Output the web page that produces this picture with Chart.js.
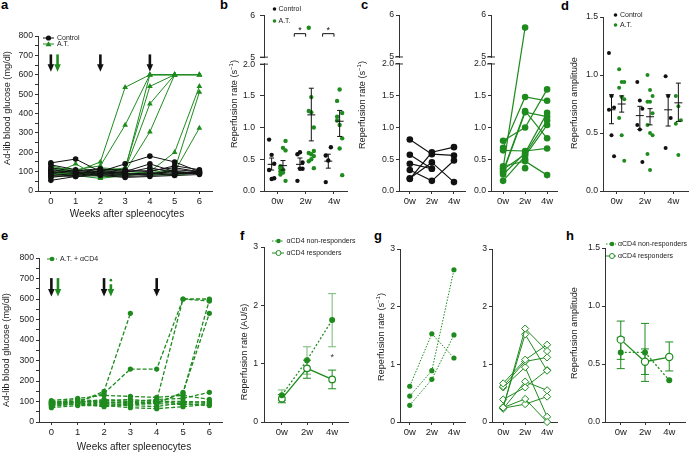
<!DOCTYPE html>
<html lang="en">
<head>
<meta charset="UTF-8" />
<title>Glucose and reperfusion panels</title>
<script src="https://cdn.jsdelivr.net/npm/chart.js"></script>
<style>
  body { margin:0; width:690px; height:452px; position:relative; overflow:hidden; background:#fff;
         font-family:'Liberation Sans', Arial, Helvetica, sans-serif; color:#222; }
  canvas { position:absolute; }
  .letter { position:absolute; font-weight:bold; font-size:13px; line-height:13px; color:#000; }
  .ytitle { position:absolute; font-size:9.2px; line-height:10px; white-space:nowrap; transform:translate(-50%,-50%) rotate(-90deg); filter:grayscale(1); }
  .ytitle sup { font-size:6px; line-height:0; }
  .xtitle { position:absolute; font-size:10px; line-height:10px; white-space:nowrap; transform:translate(-50%,-50%); filter:grayscale(1); }
  .leg { position:absolute; height:8px; display:flex; align-items:center; font-size:7px; line-height:8px; white-space:nowrap; }
  .leg span { filter:grayscale(1); }
  .leg svg { display:block; flex:none; }
</style>
</head>
<body>
  <div class="letter" style="left:1px;top:-2px">a</div>
  <div class="letter" style="left:220px;top:-2px">b</div>
  <div class="letter" style="left:361px;top:-2px">c</div>
  <div class="letter" style="left:561px;top:-1px">d</div>
  <div class="letter" style="left:1px;top:229px">e</div>
  <div class="letter" style="left:240px;top:229px">f</div>
  <div class="letter" style="left:374px;top:229px">g</div>
  <div class="letter" style="left:566px;top:229px">h</div>

  <div class="ytitle" style="left:7px;top:108px">Ad-lib blood glucose (mg/dl)</div>
  <div class="ytitle" style="left:234px;top:104px">Reperfusion rate (s<sup>−1</sup>)</div>
  <div class="ytitle" style="left:362px;top:105px">Reperfusion rate (s<sup>−1</sup>)</div>
  <div class="ytitle" style="left:574px;top:103px">Reperfusion amplitude</div>
  <div class="ytitle" style="left:6px;top:350px">Ad-lib blood glucose (mg/dl)</div>
  <div class="ytitle" style="left:244px;top:352px">Reperfusion rate (AU/s)</div>
  <div class="ytitle" style="left:381px;top:337px">Reperfusion rate (s<sup>−1</sup>)</div>
  <div class="ytitle" style="left:574px;top:333px">Reperfusion amplitude</div>

  <div class="xtitle" style="left:127px;top:214px">Weeks after spleenocytes</div>
  <div class="xtitle" style="left:134px;top:447px">Weeks after spleenocytes</div>

<script>
// ---------- data ----------
const weeks = [0, 1, 2, 3, 4, 5, 6];
const weekLabels = ['0', '1', '2', '3', '4', '5', '6'];
const glucoseTicks = [0, 50, 100, 150, 200, 250, 300, 350, 400, 450, 500, 550, 600, 650, 700, 750, 800];
const groupLabels = ['0w', '2w', '4w'];

// panel a: control (circles) and A.T. (triangles), one row per mouse
const controlGlucose = [
  [145, 165, 100, 140, 180, 150, 100],
  [135, 110, 90, 100, 140, 100, 95],
  [120, 100, 110, 110, 100, 130, 110],
  [110, 95, 100, 90, 85, 110, 100],
  [100, 90, 85, 75, 80, 90, 90],
  [90, 80, 95, 85, 95, 85, 105],
  [80, 75, 80, 70, 75, 80, 85],
  [70, 85, 105, 95, 120, 95, 95],
  [55, 75, 90, 80, 90, 100, 90],
  [95, 105, 115, 100, 105, 120, 100]
];
const atGlucose = [
  [130, 100, 150, 535, 600, 600, 600],
  [120, 110, 130, 340, 600, 600, 600],
  [100, 90, 100, 120, 540, 600, 600],
  [110, 95, 90, 110, 450, 600],
  [95, 85, 80, 100, 305, 600],
  [90, 80, 120, 110, 600, 600],
  [80, 140, 70, 90, 100, 200, 540],
  [85, 90, 75, 85, 95, 110, 510],
  [75, 80, 65, 80, 90, 100, 325],
  [100, 85, 95, 90, 85, 80, 95],
  [115, 95, 100, 90, 90, 85, 100]
];

// panel e: A.T. + aCD4
const cd4Glucose = [
  [100, 95, 150, 530],
  [90, 100, 140, 258, 258, 600, 600],
  [85, 95, 110, 100, 105, 600, 590],
  [95, 110, 100, 90, 95, 140, 595],
  [80, 90, 90, 85, 90, 145, 530],
  [105, 115, 130, 125, 120, 130, 110],
  [70, 80, 80, 70, 65, 75, 85],
  [100, 100, 95, 100, 110, 115, 145],
  [90, 85, 85, 80, 75, 95, 100],
  [75, 90, 75, 90, 100, 90, 80],
  [95, 95, 105, 110, 100, 100, 95],
  [85, 100, 95, 95, 90, 85, 90]
];

// panels b/c: reperfusion rate per mouse at 0w, 2w, 4w
const ctrlRatePairs = [
  [0.81, 0.58, 0.56],
  [0.57, 0.35, null],
  [0.43, 0.35, null],
  [0.33, 0.16, 0.48],
  [0.19, 0.61, 0.69],
  [0.20, 0.45, 0.14]
];
const atRatePairs = [
  [0.36, 5.7, null],
  [0.68, 1.48, 1.42],
  [0.79, 1.00, 1.60],
  [0.31, 1.26, 0.83],
  [0.29, 1.24, 1.17],
  [0.64, 0.63, 0.67],
  [0.26, 0.60, 1.23],
  [0.34, 0.58, 1.11],
  [0.16, 0.55, 1.04],
  [0.39, 0.47, 0.25],
  [null, 0.50, null],
  [null, 0.36, null]
];
const ctrlRateMean = [0.42, 0.42, 0.47];
const ctrlRateLo = [0.33, 0.36, 0.36];
const ctrlRateHi = [0.52, 0.52, 0.58];
const atRateMean = [0.40, 1.20, 1.10];
const atRateLo = [0.33, 0.79, 0.86];
const atRateHi = [0.48, 1.62, 1.27];

// panel d: reperfusion amplitude
const ctrlAmp = [
  [1.19, 0.82, 0.72, 0.70, 0.48, 0.30],
  [0.94, 0.78, 0.71, 0.57, 0.53, 0.25],
  [0.99, 0.82, 0.63, 0.37]
];
const atAmp = [
  [1.05, 0.94, 0.94, 0.89, 0.81, 0.79, 0.63, 0.48, 0.26],
  [1.00, 0.87, 0.82, 0.77, 0.77, 0.67, 0.57, 0.50, 0.48, 0.32, 0.18],
  [0.82, 0.73, 0.61, 0.58, 0.31]
];
const ctrlAmpMean = [0.70, 0.65, 0.70];
const ctrlAmpLo = [0.58, 0.53, 0.56];
const ctrlAmpHi = [0.83, 0.73, 0.83];
const atAmpMean = [0.75, 0.64, 0.76];
const atAmpLo = [0.68, 0.57, 0.60];
const atAmpHi = [0.82, 0.71, 0.93];

// panel f: mean rate (AU/s)
const nonRespRate = [0.46, 1.06, 1.75];
const nonRespRateLo = [0.37, 0.82, 1.29];
const nonRespRateHi = [0.55, 1.29, 2.20];
const respRate = [0.40, 0.92, 0.73];
const respRateLo = [0.33, 0.75, 0.57];
const respRateHi = [0.47, 1.06, 0.89];

// panel g: per mouse rate
const nonRespPairs = [
  [0.62, 1.53, 1.11],
  [0.45, 0.89, 2.64],
  [0.29, 0.74, 1.51]
];
const respPairs = [
  [0.25, 1.62, 1.23],
  [0.26, 1.52, 0.89],
  [0.67, 1.08, 1.34],
  [0.62, 1.05, 1.12],
  [0.39, 0.60, 0.90],
  [0.23, 0.70, 0.55],
  [0.25, 0.40, 0.00],
  [0.24, 0.31, 0.44],
  [0.60, 0.95, 0.09]
];

// panel h: amplitude
const nonRespAmp = [0.60, 0.60, 0.36];
const nonRespAmpLo = [0.46, 0.35, null];
const nonRespAmpHi = [0.73, 0.85, null];
const respAmp = [0.71, 0.52, 0.56];
const respAmpLo = [0.54, 0.41, 0.44];
const respAmpHi = [0.87, 0.63, 0.69];

// ---------- helpers ----------
const GREEN = '#1f8b1f';
const LIGHTGREEN = '#74b874';
const BLACK = '#111';
const YW = 34, PT = 10, PR = 10, XH = 26;

// broken y axis for b and c: 0..2 then 5..6 squeezed on top
const BRK_TOP = 2.11, BRK_K = 0.661;
const brk = v => v <= 2 ? v : BRK_TOP + (v - 5) * BRK_K;

function arrow(ctx, x, y0, y1, color) {
  const head = 7.5, hw = 3.3;
  ctx.strokeStyle = color; ctx.fillStyle = color; ctx.lineWidth = 2.6;
  ctx.beginPath(); ctx.moveTo(x, y0); ctx.lineTo(x, y1 - head + 1); ctx.stroke();
  ctx.beginPath(); ctx.moveTo(x - hw, y1 - head); ctx.lineTo(x + hw, y1 - head); ctx.lineTo(x, y1); ctx.closePath(); ctx.fill();
}

function drawBars(chart, bars) {
  const ctx = chart.ctx, xs = chart.scales.x, ys = chart.scales.y;
  bars.forEach(b => {
    const x = xs.getPixelForValue(b.x);
    ctx.strokeStyle = b.color; ctx.lineWidth = b.width || 1;
    ctx.beginPath();
    if (b.lo != null) {
      const yl = ys.getPixelForValue(b.lo), yh = ys.getPixelForValue(b.hi);
      ctx.moveTo(x, yl); ctx.lineTo(x, yh);
      ctx.moveTo(x - b.cap, yl); ctx.lineTo(x + b.cap, yl);
      ctx.moveTo(x - b.cap, yh); ctx.lineTo(x + b.cap, yh);
    }
    if (b.half) {
      const ym = ys.getPixelForValue(b.mean);
      ctx.moveTo(x - b.half, ym); ctx.lineTo(x + b.half, ym);
    }
    ctx.stroke();
  });
}

function makeExtras(ex) {
  return {
    id: 'extras',
    beforeDatasetsDraw(chart) {
      if (ex.bars && ex.barsBehind) { chart.ctx.save(); drawBars(chart, ex.bars); chart.ctx.restore(); }
    },
    afterDatasetsDraw(chart) {
      const ctx = chart.ctx, xs = chart.scales.x, ys = chart.scales.y;
      ctx.save();
      if (ex.bars && !ex.barsBehind) drawBars(chart, ex.bars);
      (ex.arrows || []).forEach(a => {
        const x = xs.getPixelForValue(a.x);
        if (a.dot) {
          ctx.fillStyle = a.color;
          ctx.beginPath(); ctx.arc(x, ys.getPixelForValue(a.dot), 1.3, 0, Math.PI * 2); ctx.fill();
        }
        arrow(ctx, x, ys.getPixelForValue(a.top), ys.getPixelForValue(a.tip), a.color);
      });
      (ex.brackets || []).forEach(b => {
        const x1 = xs.getPixelForValue(b.x1), x2 = xs.getPixelForValue(b.x2), y = ys.getPixelForValue(b.y);
        ctx.strokeStyle = '#111'; ctx.lineWidth = 1;
        ctx.beginPath(); ctx.moveTo(x1, y + 3); ctx.lineTo(x1, y); ctx.lineTo(x2, y); ctx.lineTo(x2, y + 3); ctx.stroke();
        ctx.fillStyle = '#111'; ctx.font = '9px "Liberation Sans", Arial, sans-serif';
        ctx.textAlign = 'center'; ctx.textBaseline = 'bottom';
        ctx.fillText('*', (x1 + x2) / 2, y + 1);
      });
      (ex.stars || []).forEach(s => {
        ctx.fillStyle = '#333'; ctx.font = '9px "Liberation Sans", Arial, sans-serif';
        ctx.textAlign = 'center'; ctx.textBaseline = 'middle';
        ctx.fillText(s.text, xs.getPixelForValue(s.x), ys.getPixelForValue(s.y));
      });
      ctx.restore();
    },
    afterDraw(chart) {
      if (!ex.yBreak) return;
      const ctx = chart.ctx, ys = chart.scales.y, x = chart.chartArea.left;
      const ylo = ys.getPixelForValue(2), yhi = ys.getPixelForValue(BRK_TOP);
      ctx.save();
      ctx.fillStyle = '#fff';
      ctx.fillRect(x - 2, yhi + 1, 4, ylo - yhi - 2);
      ctx.strokeStyle = '#333'; ctx.lineWidth = 1;
      ctx.beginPath();
      ctx.moveTo(x - 4, ylo); ctx.lineTo(x + 4, ylo);
      ctx.moveTo(x - 4, yhi); ctx.lineTo(x + 4, yhi);
      ctx.stroke();
      ctx.restore();
    }
  };
}

function axis(a, dir) {
  return {
    type: 'linear', min: a.min, max: a.max,
    afterBuildTicks: s => { s.ticks = a.ticks.map(v => ({ value: v })); },
    afterFit: s => { if (dir === 'x') s.height = XH; else s.width = YW; },
    ticks: {
      autoSkip: false, maxRotation: 0, padding: a.pad ?? 2, color: '#222',
      font: { size: dir === 'x' ? 9.5 : 8.7, family: "'Liberation Sans', Arial, sans-serif" },
      callback: (v, i) => a.labels[i]
    },
    grid: { display: true, drawOnChartArea: false, drawTicks: true, tickLength: a.tick ?? 3, color: '#333', lineWidth: 1 },
    border: { display: true, color: '#333', width: 1 }
  };
}

function panel(box, opts) {
  const cv = document.createElement('canvas');
  const w = box.r - box.l + YW + PR, h = box.b - box.t + PT + XH;
  cv.width = w; cv.height = h;
  cv.style.left = (box.l - YW) + 'px';
  cv.style.top = (box.t - PT) + 'px';
  document.body.appendChild(cv);
  return new Chart(cv, {
    type: 'scatter',
    data: { datasets: opts.datasets },
    options: {
      responsive: false, animation: false, events: [],
      layout: { padding: { top: PT, right: PR, left: 0, bottom: 0 } },
      plugins: { legend: { display: false }, tooltip: { enabled: false } },
      scales: { x: axis(opts.x, 'x'), y: axis(opts.y, 'y') }
    },
    plugins: [makeExtras(opts.extras || {})]
  });
}

function series(values, xs, style) {
  const pts = [];
  values.forEach((v, i) => { if (v != null) pts.push({ x: xs[i], y: v }); });
  return Object.assign({ data: pts, showLine: true, tension: 0, clip: false, borderWidth: 1 }, style);
}

// spread dots a little sideways inside a group
const jitter = i => ((i % 3) - 1) * 0.09;

function groupDots(groups, offset, tf, style) {
  const pts = [];
  groups.forEach((vals, k) => vals.forEach((v, i) => pts.push({ x: k + offset + jitter(i), y: tf(v) })));
  return Object.assign({ data: pts, showLine: false, clip: false, borderWidth: 0 }, style);
}

const byGroup = pairs => [0, 1, 2].map(k => pairs.map(p => p[k]).filter(v => v != null));

function meanBars(mean, lo, hi, offset, color, tf, half, cap) {
  return mean.map((m, k) => ({
    x: k + offset, mean: tf(m), lo: lo[k] == null ? null : tf(lo[k]), hi: hi[k] == null ? null : tf(hi[k]),
    color: color, half: half, cap: cap
  }));
}

const idt = v => v;
const glucoseLabels = glucoseTicks.map(v => v % 100 === 0 ? String(v) : '');
const rateBrkTicks = [0, 0.5, 1, 1.5, 2, brk(5), brk(6)];
const rateBrkLabels = ['0.0', '0.5', '1.0', '1.5', '2.0', '5', '6'];

// ---------- a ----------
panel({ l: 38, t: 36, r: 212, b: 191 }, {
  x: { min: -0.52, max: 6.51, ticks: weeks, labels: weekLabels, pad: 2 },
  y: { min: 0, max: 800, ticks: glucoseTicks, labels: glucoseLabels, pad: 2 },
  datasets: [
    ...controlGlucose.map(s => series(s, weeks, { borderColor: BLACK, backgroundColor: BLACK, pointStyle: 'circle', pointRadius: 2.8, pointBorderWidth: 0 })),
    ...atGlucose.map(s => series(s, weeks, { borderColor: GREEN, backgroundColor: GREEN, pointStyle: 'triangle', pointRadius: 3.3, pointBorderWidth: 0 }))
  ],
  extras: {
    arrows: [
      { x: 0, top: 705, tip: 615, color: BLACK },
      { x: 0.27, top: 705, tip: 615, color: GREEN },
      { x: 2, top: 705, tip: 615, color: BLACK },
      { x: 4, top: 705, tip: 615, color: BLACK }
    ]
  }
});

// ---------- b ----------
panel({ l: 264, t: 15, r: 347, b: 191 }, {
  x: { min: -0.47, max: 2.46, ticks: [0, 1, 2], labels: groupLabels, pad: 2 },
  y: { min: 0, max: brk(6), ticks: rateBrkTicks, labels: rateBrkLabels, pad: 5, tick: 4 },
  datasets: [
    groupDots(byGroup(ctrlRatePairs), -0.2, brk, { backgroundColor: BLACK, pointRadius: 2.2 }),
    groupDots(byGroup(atRatePairs), 0.2, brk, { backgroundColor: GREEN, pointRadius: 2.2 })
  ],
  extras: {
    yBreak: true,
    bars: [
      ...meanBars(ctrlRateMean, ctrlRateLo, ctrlRateHi, -0.2, BLACK, brk, 4, 2.5),
      ...meanBars(atRateMean, atRateLo, atRateHi, 0.2, BLACK, brk, 4, 2.5)
    ],
    brackets: [
      { x1: 0.6, x2: 1.0, y: brk(5.56) },
      { x1: 1.6, x2: 2.0, y: brk(5.56) }
    ]
  }
});

// ---------- c ----------
panel({ l: 399, t: 15, r: 465, b: 191 }, {
  x: { min: -0.49, max: 2.5, ticks: [0, 1, 2], labels: groupLabels, pad: 2 },
  y: { min: 0, max: brk(6), ticks: rateBrkTicks, labels: rateBrkLabels, pad: 2 },
  datasets: ctrlRatePairs.map(s => series(s.map(v => v == null ? null : brk(v)), [0, 1, 2],
    { borderColor: BLACK, backgroundColor: BLACK, borderWidth: 1.2, pointRadius: 3.3, pointBorderWidth: 0 })),
  extras: { yBreak: true }
});
panel({ l: 491, t: 15, r: 557, b: 191 }, {
  x: { min: -0.55, max: 2.45, ticks: [0, 1, 2], labels: groupLabels, pad: 2 },
  y: { min: 0, max: brk(6), ticks: rateBrkTicks, labels: rateBrkLabels, pad: 2 },
  datasets: atRatePairs.map(s => series(s.map(v => v == null ? null : brk(v)), [0, 1, 2],
    { borderColor: GREEN, backgroundColor: GREEN, borderWidth: 1.2, pointRadius: 3.3, pointBorderWidth: 0 })),
  extras: { yBreak: true }
});

// ---------- d ----------
panel({ l: 603, t: 17, r: 688, b: 191 }, {
  x: { min: -0.48, max: 2.52, ticks: [0, 1, 2], labels: groupLabels, pad: 2 },
  y: { min: 0, max: 1.5, ticks: [0, 0.5, 1, 1.5], labels: ['0.0', '0.5', '1.0', '1.5'], pad: 2 },
  datasets: [
    groupDots(ctrlAmp, -0.18, idt, { backgroundColor: BLACK, pointRadius: 2 }),
    groupDots(atAmp, 0.18, idt, { backgroundColor: GREEN, pointRadius: 2 })
  ],
  extras: {
    bars: [
      ...meanBars(ctrlAmpMean, ctrlAmpLo, ctrlAmpHi, -0.18, BLACK, idt, 4, 2.5),
      ...meanBars(atAmpMean, atAmpLo, atAmpHi, 0.18, BLACK, idt, 4, 2.5)
    ]
  }
});

// ---------- e ----------
panel({ l: 39, t: 258, r: 222, b: 422 }, {
  x: { min: -0.47, max: 6.48, ticks: weeks, labels: weekLabels, pad: 2 },
  y: { min: 0, max: 800, ticks: glucoseTicks, labels: glucoseLabels, pad: 2 },
  datasets: cd4Glucose.map(s => series(s, weeks, {
    borderColor: GREEN, backgroundColor: GREEN, borderWidth: 1.3, borderDash: [4, 2],
    pointStyle: 'circle', pointRadius: 2.6, pointBorderWidth: 0
  })),
  extras: {
    arrows: [
      { x: 0, top: 702, tip: 612, color: BLACK },
      { x: 0.25, top: 702, tip: 612, color: GREEN },
      { x: 2, top: 702, tip: 612, color: BLACK },
      { x: 2.26, top: 672, tip: 612, color: GREEN, dot: 692 },
      { x: 4, top: 702, tip: 612, color: BLACK }
    ]
  }
});

// ---------- f ----------
panel({ l: 264, t: 247, r: 348, b: 422 }, {
  x: { min: -0.71, max: 2.63, ticks: [0, 1, 2], labels: groupLabels, pad: 2 },
  y: { min: 0, max: 3, ticks: [0, 1, 2, 3], labels: ['0', '1', '2', '3'], pad: 3 },
  datasets: [
    series(nonRespRate, [0, 1, 2], { borderColor: GREEN, backgroundColor: GREEN, borderWidth: 1.3, borderDash: [2, 2], pointRadius: 3, pointBorderWidth: 0 }),
    series(respRate, [0, 1, 2], { borderColor: GREEN, backgroundColor: '#fff', borderWidth: 1.3, pointRadius: 3.3, pointBorderWidth: 1.2 })
  ],
  extras: {
    barsBehind: true,
    bars: [
      ...meanBars(nonRespRate, nonRespRateLo, nonRespRateHi, 0, LIGHTGREEN, idt, 0, 4),
      ...meanBars(respRate, respRateLo, respRateHi, 0, GREEN, idt, 0, 4)
    ],
    stars: [{ x: 2, y: 1.1, text: '*' }]
  }
});

// ---------- g ----------
panel({ l: 400, t: 249, r: 465, b: 422 }, {
  x: { min: -0.44, max: 2.5, ticks: [0, 1, 2], labels: groupLabels, pad: 2 },
  y: { min: 0, max: 3, ticks: [0, 1, 2, 3], labels: ['0', '1', '2', '3'], pad: 2 },
  datasets: nonRespPairs.map(s => series(s, [0, 1, 2], {
    borderColor: GREEN, backgroundColor: GREEN, borderWidth: 1, borderDash: [1.5, 1.5], pointRadius: 2.6, pointBorderWidth: 0
  }))
});
panel({ l: 492, t: 249, r: 557, b: 422 }, {
  x: { min: -0.51, max: 2.45, ticks: [0, 1, 2], labels: groupLabels, pad: 2 },
  y: { min: 0, max: 3, ticks: [0, 1, 2, 3], labels: ['0', '1', '2', '3'], pad: 2 },
  datasets: respPairs.map(s => series(s, [0, 1, 2], {
    borderColor: GREEN, backgroundColor: '#fff', borderWidth: 1, pointStyle: 'rectRot', pointRadius: 3.6, pointBorderWidth: 1
  }))
});

// ---------- h ----------
panel({ l: 605, t: 248, r: 685, b: 422 }, {
  x: { min: -0.65, max: 2.65, ticks: [0, 1, 2], labels: groupLabels, pad: 2 },
  y: { min: 0, max: 1.5, ticks: [0, 0.5, 1, 1.5], labels: ['0.0', '0.5', '1.0', '1.5'], pad: 2 },
  datasets: [
    series(nonRespAmp, [0, 1, 2], { borderColor: GREEN, backgroundColor: GREEN, borderWidth: 1.3, borderDash: [2, 2], pointRadius: 3, pointBorderWidth: 0 }),
    series(respAmp, [0, 1, 2], { borderColor: GREEN, backgroundColor: '#fff', borderWidth: 1.3, pointRadius: 3.6, pointBorderWidth: 1.2 })
  ],
  extras: {
    barsBehind: true,
    bars: [
      ...meanBars(nonRespAmp, nonRespAmpLo, nonRespAmpHi, 0, GREEN, idt, 0, 4),
      ...meanBars(respAmp, respAmpLo, respAmpHi, 0, GREEN, idt, 0, 4)
    ]
  }
});

// ---------- legends (html) ----------
function legRow(left, cy, svgW, svg, text, textLeft) {
  const d = document.createElement('div');
  d.className = 'leg';
  d.style.left = left + 'px';
  d.style.top = (cy - 4) + 'px';
  d.innerHTML = '<svg width="' + svgW + '" height="8">' + svg + '</svg>' +
    '<span style="margin-left:' + (textLeft - left - svgW) + 'px">' + text + '</span>';
  document.body.appendChild(d);
}
const ln = (w, c, dash) => '<line x1="0" y1="4" x2="' + w + '" y2="4" stroke="' + c + '" stroke-width="1"' + (dash ? ' stroke-dasharray="' + dash + '"' : '') + '/>';
const dot = (x, c, r) => '<circle cx="' + x + '" cy="4" r="' + r + '" fill="' + c + '"/>';
const ring = (x, c, r) => '<circle cx="' + x + '" cy="4" r="' + r + '" fill="#fff" stroke="' + c + '" stroke-width="1"/>';
const tri = (x, c) => '<polygon points="' + (x - 3) + ',6.3 ' + (x + 3) + ',6.3 ' + x + ',1.2" fill="' + c + '"/>';

legRow(43, 38.3, 11, ln(11, BLACK) + dot(5.5, BLACK, 2.6), 'Control', 57);
legRow(43, 44.3, 11, ln(11, GREEN) + tri(5.5, GREEN), 'A.T.', 57);

legRow(271.5, 9.3, 5, dot(2.5, BLACK, 1.8), 'Control', 278.5);
legRow(271.5, 20.7, 5, dot(2.5, GREEN, 1.8), 'A.T.', 278.5);

legRow(612.5, 15, 5, dot(2.5, BLACK, 1.8), 'Control', 620);
legRow(612.5, 25, 5, dot(2.5, GREEN, 1.8), 'A.T.', 620);

legRow(46.5, 259.3, 10, ln(10, GREEN, '3,1.5') + dot(5, GREEN, 2.3), 'A.T. + αCD4', 60);

legRow(271.5, 240.7, 12, ln(12, GREEN, '1.5,1.5') + dot(6.5, GREEN, 2.3), 'αCD4 non-responders', 286.5);
legRow(271.5, 252.7, 12, ln(12, GREEN) + ring(6.5, GREEN, 2.5), 'αCD4 responders', 286.5);

legRow(605.5, 244.3, 10, ln(10, GREEN, '1.5,1.5') + dot(6, GREEN, 2.3), 'αCD4 non-responders', 618);
legRow(605.5, 256, 10, ln(10, GREEN) + ring(6, GREEN, 2.5), 'αCD4 responders', 618);
</script>
</body>
</html>
